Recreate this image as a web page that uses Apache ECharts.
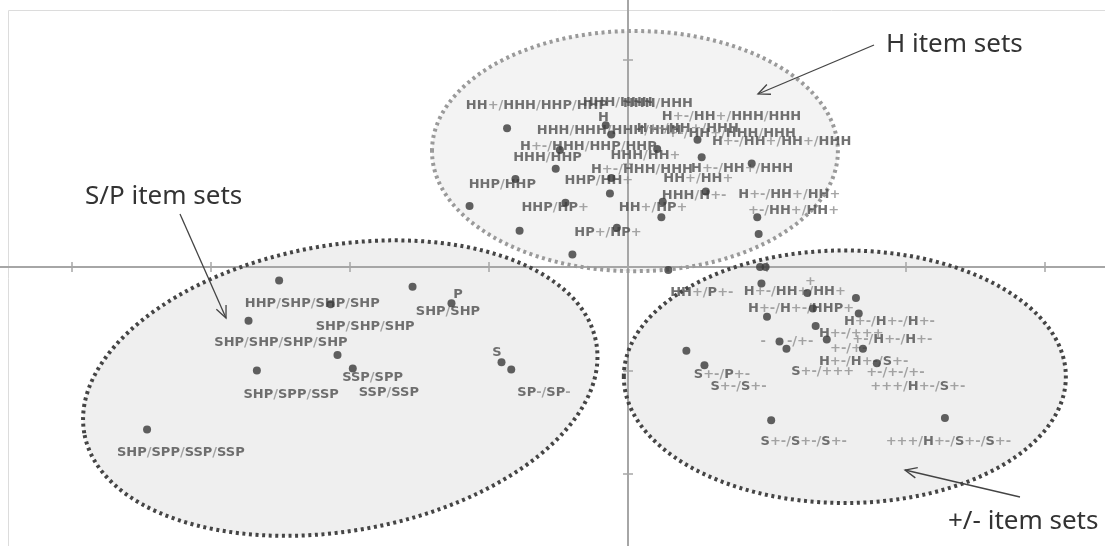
<!DOCTYPE html>
<html>
<head>
<meta charset="utf-8">
<script src="https://cdn.jsdelivr.net/npm/echarts@6/dist/echarts.min.js"></script>
<style>
  html, body { margin: 0; padding: 0; background: #fff; }
  #chart { width: 1105px; height: 546px; }
</style>
</head>
<body>
<div id="chart"></div>
<script>
// item-set points (axis units, one tick = 1)
const dotX = [-0.87, -0.16, -0.12, -0.49, -0.52, -0.81, -0.12, -0.13, -1.14, -0.45, -0.78, -0.08, -0.40,
  0.50, 0.21, 0.53, 0.89, 0.56, 0.25, 0.24, 0.93, 0.94,
  0.29, 0.95, 0.99, 0.96, 1.29, 1.64, 1.33, 1.00, 1.66, 1.35, 1.43, 1.09, 1.14, 1.69, 0.42, 0.55, 1.79, 1.03, 2.28,
  -2.51, -1.55, -2.14, -1.27, -2.73, -2.09, -1.98, -2.67, -0.91, -0.84, -3.46];
const dotY = [1.34, 1.37, 1.28, 1.13, 0.95, 0.85, 0.86, 0.71, 0.59, 0.62, 0.35, 0.38, 0.12,
  1.23, 1.14, 1.06, 1.00, 0.73, 0.63, 0.48, 0.48, 0.32,
  -0.03, 0, 0, -0.16, -0.25, -0.30, -0.40, -0.48, -0.45, -0.57, -0.70, -0.72, -0.79, -0.79, -0.81, -0.95, -0.93, -1.48, -1.46,
  -0.13, -0.19, -0.36, -0.35, -0.52, -0.85, -0.98, -1.00, -0.92, -0.99, -1.57];

// point labels: text and where it starts (axis units)
const labelText = [
  'HH+/HHH/HHP/HHP', 'HHH/HHH', 'HHH/HHH', 'H', 'H+-/HH+/HHH/HHH', 'HHH/HHH/HHH/HHH', 'H+-/HH+/HHH',
  '+-/HH+/HHH/HHH', 'H+-/HH+/HH+/HHH', 'H+-/HHH/HHP/HHP', 'HHH/HHP', 'HHH/HH+', 'H+-/HHH/HHH', 'H+-/HH+/HHH',
  'HHP/HHP', 'HHP/HH+', 'HH+/HH+', 'HHH/H+-', 'H+-/HH+/HH+', 'HHP/HP+', 'HH+/HP+', '+-/HH+/HH+', 'HP+/HP+',
  'HH+/P+-', '+', 'H+-/HH+/HH+', 'H+-/H+-/HHP+', 'H+-/H+-/H+-', 'H+-/+++', '+-/H+-/H+-', '-', '-/+-', '+-/+-',
  'H+-/H+-/S+-', 'S+-/+++', '+-/+-/+-', 'S+-/P+-', 'S+-/S+-', '+++/H+-/S+-', 'S+-/S+-/S+-', '+++/H+-/S+-/S+-',
  'HHP/SHP/SHP/SHP', 'P', 'SHP/SHP', 'SHP/SHP/SHP', 'SHP/SHP/SHP/SHP', 'S', 'SSP/SPP', 'SSP/SSP',
  'SHP/SPP/SSP', 'SP-/SP-', 'SHP/SPP/SSP/SSP'
];
const labelX = [-1.17, -0.33, -0.04, -0.22, 0.24, -0.66, 0.06,
  0.28, 0.60, -0.78, -0.83, -0.13, -0.27, 0.45,
  -1.15, -0.46, 0.25, 0.24, 0.79, -0.77, -0.07, 0.86, -0.39,
  0.30, 1.27, 0.83, 0.86, 1.55, 1.37, 1.61, 0.95, 1.14, 1.45,
  1.37, 1.17, 1.71, 0.47, 0.59, 1.74, 0.95, 1.85,
  -2.76, -1.26, -1.53, -2.25, -2.98, -0.98, -2.06, -1.94,
  -2.77, -0.80, -3.68];
const labelY = [1.56, 1.59, 1.58, 1.44, 1.45, 1.32, 1.34,
  1.29, 1.21, 1.16, 1.06, 1.08, 0.94, 0.95,
  0.80, 0.83, 0.85, 0.69, 0.70, 0.57, 0.57, 0.54, 0.33,
  -0.25, -0.14, -0.24, -0.40, -0.53, -0.64, -0.70, -0.72, -0.72, -0.79,
  -0.91, -1.01, -1.02, -1.04, -1.16, -1.16, -1.69, -1.69,
  -0.35, -0.27, -0.43, -0.58, -0.73, -0.83, -1.07, -1.21,
  -1.23, -1.21, -1.79];

// the three groups drawn as dotted ellipses (axis units, tilt in degrees)
const groupCx = [0.05, -2.07, 1.56];
const groupCy = [1.12, -1.17, -1.06];
const groupRx = [1.46, 1.87, 1.59];
const groupRy = [1.16, 1.38, 1.22];
const groupTilt = [0, 10, 0];

const chart = echarts.init(document.getElementById('chart'));

// letters dark, signs and slashes lighter
function richLabel(s) {
  let out = '', run = '', isLetter = null;
  for (const ch of s) {
    const l = /[A-Z]/.test(ch);
    if (isLetter !== null && l !== isLetter) {
      out += '{' + (isLetter ? 'a' : 'b') + '|' + run + '}';
      run = '';
    }
    run += ch;
    isLetter = l;
  }
  if (run) out += '{' + (isLetter ? 'a' : 'b') + '|' + run + '}';
  return out;
}

const labelFont = { fontFamily: 'DejaVu Sans', fontSize: 13, fontWeight: 'bold' };

const axisCommon = {
  type: 'value',
  interval: 1,
  axisLine: { onZero: true, lineStyle: { color: '#a6a6a6', width: 2 } },
  axisTick: { show: true, length: 5, lineStyle: { color: '#a6a6a6', width: 1.5 } },
  axisLabel: { show: false },
  splitLine: { show: false }
};

chart.setOption({
  animation: false,
  // grid runs past the window so that the axes cross where they do in the picture
  grid: { left: -67, right: -79, top: -43.5, bottom: -31.5, outerBoundsMode: 'none', containLabel: false },
  xAxis: [
    Object.assign({}, axisCommon, { min: -5, max: 4, position: 'bottom' }),
    Object.assign({}, axisCommon, { min: -5, max: 4, position: 'top' })
  ],
  yAxis: [
    Object.assign({}, axisCommon, { min: -3, max: 3, position: 'left' }),
    Object.assign({}, axisCommon, { min: -3, max: 3, position: 'right' })
  ],
  series: [
    {
      type: 'scatter',
      name: 'labels',
      z: 3,
      symbolSize: 1,
      itemStyle: { color: 'rgba(0,0,0,0)' },
      data: labelText.map((t, i) => ({ name: t, value: [labelX[i], labelY[i]] })),
      label: Object.assign({
        show: true,
        position: 'right',
        distance: 0,
        formatter: p => richLabel(p.name),
        rich: {
          a: Object.assign({ color: '#4d4d4d' }, labelFont),
          b: Object.assign({ color: '#8f8f8f' }, labelFont)
        }
      }, labelFont)
    },
    {
      type: 'scatter',
      name: 'points',
      z: 4,
      symbolSize: 8,
      itemStyle: { color: '#3a3a3a' },
      data: dotX.map((x, i) => [x, dotY[i]])
    }
  ]
});

function toPx(x, y) { return chart.convertToPixel({ gridIndex: 0 }, [x, y]); }

function arrow(x1, y1, x2, y2) {
  const a = Math.atan2(y2 - y1, x2 - x1), L = 13, s = 0.42;
  return [
    { type: 'line', shape: { x1, y1, x2, y2 }, style: { stroke: '#444', lineWidth: 1.3 }, z: 10 },
    {
      type: 'polyline', z: 10,
      shape: { points: [
        [x2 - L * Math.cos(a - s), y2 - L * Math.sin(a - s)],
        [x2, y2],
        [x2 - L * Math.cos(a + s), y2 - L * Math.sin(a + s)]
      ] },
      style: { stroke: '#444', lineWidth: 1.3, fill: null }
    }
  ];
}

const fills = ['#f3f3f3', '#efefef', '#efefef'];
const strokes = ['#9a9a9a', '#454545', '#454545'];
const graphics = [
  { type: 'rect', z: -5, silent: true, shape: { x: 8.5, y: 10.5, width: 1200, height: 600 },
    style: { fill: 'none', stroke: '#dcdcdc', lineWidth: 1 } }
];
groupCx.forEach((cx, i) => {
  const c = toPx(cx, groupCy[i]);
  const ex = toPx(cx + groupRx[i], groupCy[i]);
  const ey = toPx(cx, groupCy[i] + groupRy[i]);
  const shape = { cx: 0, cy: 0, rx: ex[0] - c[0], ry: c[1] - ey[1] };
  const rot = groupTilt[i] * Math.PI / 180;
  graphics.push({ type: 'ellipse', z: -3, silent: true, x: c[0], y: c[1], rotation: rot, shape,
    style: { fill: fills[i], stroke: null } });
  graphics.push({ type: 'ellipse', z: 1, silent: true, x: c[0], y: c[1], rotation: rot, shape,
    style: { fill: null, stroke: strokes[i], lineWidth: 4, lineDash: [3, 3.6] } });
});

const noteFont = '26px "Noto Sans"';
graphics.push(
  { type: 'text', z: 10, style: { text: 'H item sets', x: 886, y: 45, font: noteFont, fill: '#333', verticalAlign: 'middle' } },
  { type: 'text', z: 10, style: { text: 'S/P item sets', x: 85, y: 197, font: noteFont, fill: '#333', verticalAlign: 'middle' } },
  { type: 'text', z: 10, style: { text: '+/- item sets', x: 948, y: 522, font: noteFont, fill: '#333', verticalAlign: 'middle' } }
);
graphics.push(...arrow(874, 45, 758, 94));
graphics.push(...arrow(180, 214, 226, 318));
graphics.push(...arrow(1020, 497, 905, 470));

chart.setOption({ graphic: graphics });
</script>
</body>
</html>
